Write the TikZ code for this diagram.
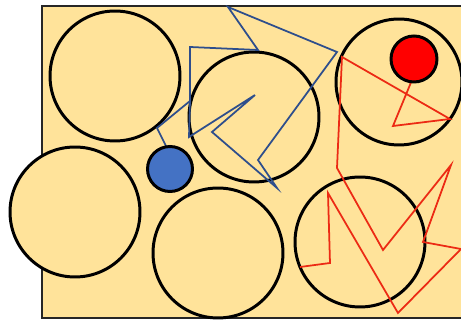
\documentclass[tikz,border=0pt]{standalone}
\usepackage{xcolor}
\usepackage{tikz}
\definecolor{BMFill}{HTML}{FFE39A}
\definecolor{BMBlue}{HTML}{2E4E8C}
\definecolor{BMDot}{HTML}{4472C4}
\definecolor{BMRed}{HTML}{EC2A14}
\begin{document}
\begin{tikzpicture}[x=0.02cm,y=-0.02cm,
  grain/.style={draw=black,line width=1.7pt,fill=BMFill},
  walkblue/.style={draw=BMBlue,line width=1pt,line join=miter},
  walkred/.style={draw=BMRed,line width=1pt,line join=miter}]
\path[use as bounding box] (0,0) rectangle (461,320);
\clip (0,0) rectangle (461,320);
\draw[line width=1.7pt,draw=black!85,fill=BMFill] (42,6) rectangle (480,318);
% grains
\draw[grain] (115,76) circle (1.3cm);
\draw[grain] (254,117) circle (1.3cm);
\draw[grain] (399,82) circle (1.26cm);
\draw[grain] (75,212) circle (1.3cm);
\draw[grain] (218,253) circle (1.3cm);
\draw[grain] (360,242) circle (1.3cm);
% walks
\draw[walkblue] (167,148) -- (157,128) -- (190,101) -- (189,137) -- (255,95) -- (212,132)
  -- (277,188) -- (258,160) -- (337,52) -- (228,7) -- (258,50) -- (190,47) -- (190,101);
\draw[walkred] (412,80) -- (393,126) -- (450,119) -- (342,57) -- (337,168) -- (383,250)
  -- (451,165) -- (423,242) -- (461,249) -- (398,313) -- (328,193) -- (330,263) -- (300,267);
% particles
\draw[line width=1.7pt,fill=BMDot] (170,169) circle (0.45cm);
\draw[line width=1.7pt,fill=red] (414,59) circle (0.46cm);
\end{tikzpicture}
\end{document}
